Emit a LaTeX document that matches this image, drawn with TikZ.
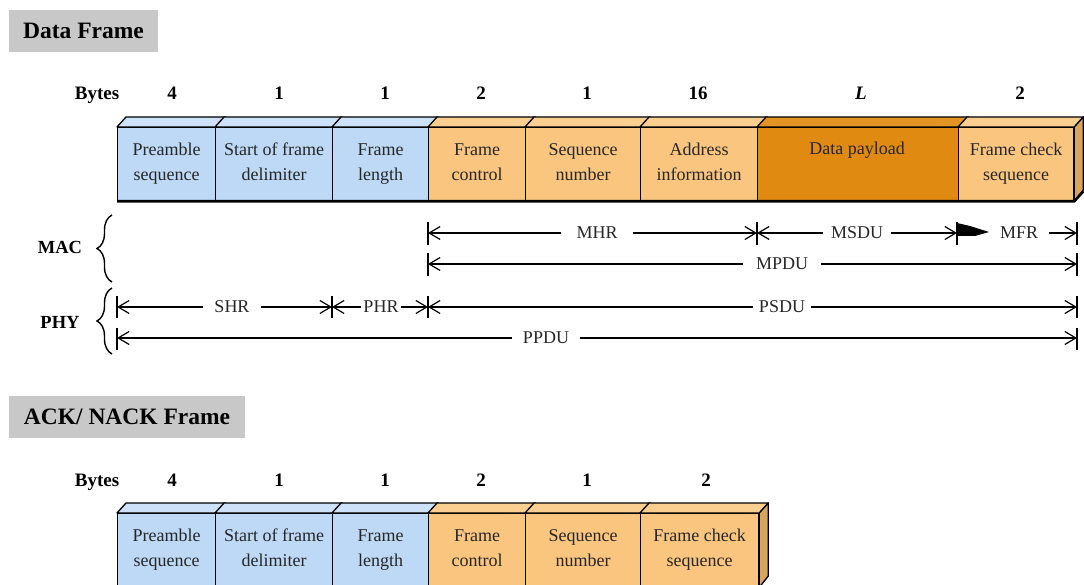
\documentclass[tikz,border=0pt]{standalone}
\usepackage{fontspec}
\setmainfont{Liberation Serif}
\usetikzlibrary{arrows.meta,decorations.pathreplacing}

\definecolor{blueF}{HTML}{BDD9F5}
\definecolor{blueT}{HTML}{CDE2F8}
\definecolor{orF}{HTML}{FAC67F}
\definecolor{orT}{HTML}{FBCF90}
\definecolor{orS}{HTML}{D6A55E}
\definecolor{darkF}{HTML}{E08A12}
\definecolor{darkT}{HTML}{E39524}
\definecolor{hdrgray}{HTML}{C8C8C8}
\definecolor{ink}{HTML}{262626}

% one field of a frame: name, left x, right x, top y, colour prefix, text
\newcommand{\framefield}[6]{%
  \node[field, fill=#5F, minimum width={(#3-#2)*1pt}, anchor=north west] (#1) at (#2,#4) {#6};
  \filldraw[face, fill=#5T] (#1.north west) -- ++(9,-10)
      -- ([shift={(9,-10)}]#1.north east) -- (#1.north east) -- cycle;
}

\begin{document}
\begin{tikzpicture}[x=1pt, y=-1pt,
  field/.style={draw, line width=1.3pt, inner sep=0pt, minimum height=73pt,
    align=center, text=ink, font=\fontsize{18}{25}\selectfont,
    execute at begin node=\rule{0pt}{21pt}, execute at end node=\rule[-4pt]{0pt}{4pt}},
  face/.style={draw, line width=1.3pt, line join=round},
  header/.style={fill=hdrgray, inner sep=0pt, font=\fontsize{23.5}{26}\selectfont\bfseries},
  bytes/.style={anchor=base, font=\fontsize{19}{22}\selectfont\bfseries},
  layer/.style={font=\fontsize{18.5}{22}\selectfont\bfseries},
  dimlabel/.style={inner xsep=11pt, inner ysep=0pt, font=\fontsize{18}{20}\selectfont, text=ink},
  dimarrow/.style={line width=1.2pt, -{Straight Barb[length=11pt,width=13pt]}},
  tick/.style={line width=1.3pt},
  bracestyle/.style={line width=1.4pt, decorate, decoration={brace, amplitude=15pt, aspect=0.5}}
]
\useasboundingbox (0,0) rectangle (1084,585);
\clip (0,0) rectangle (1084,585);

% ---------------- Data frame ----------------
\node[header, minimum width=149pt, minimum height=42pt] (dfhead) at (83.5,31) {Data Frame};

\node[bytes] (dbytes) at (97,100) {Bytes};
\node[bytes] (dn1) at (172,100) {4};
\node[bytes] (dn2) at (279,100) {1};
\node[bytes] (dn3) at (385,100) {1};
\node[bytes] (dn4) at (481,100) {2};
\node[bytes] (dn5) at (587,100) {1};
\node[bytes] (dn6) at (698,100) {16};
\node[bytes] (dn7) at (861,100) {\itshape L};
\node[bytes] (dn8) at (1020,100) {2};

\framefield{dpre}{117}{215}{127}{blue}{Preamble\\sequence}
\framefield{dsfd}{215}{332}{127}{blue}{Start of frame\\delimiter}
\framefield{dlen}{332}{428}{127}{blue}{Frame\\length}
\framefield{dfc}{428}{525}{127}{or}{Frame\\control}
\framefield{dseq}{525}{640}{127}{or}{Sequence\\number}
\framefield{daddr}{640}{757}{127}{or}{Address\\information}
\framefield{dpay}{757}{958}{127}{dark}{}
\framefield{dfcs}{958}{1073}{127}{or}{Frame check\\sequence}
\node[text=ink, font=\fontsize{18}{25}\selectfont] (dpaytext) at (857,150) {Data payload};
\filldraw[face, fill=orS] (dfcs.north east) -- ++(9,-10) -- ++(0,73) -- (dfcs.south east) -- cycle;
\draw[line width=2.6pt] (dpre.south west) -- (dfcs.south east) -- ++(9,-10);

% ---------------- Layer braces ----------------
\node[layer] (mac) at (60,247) {MAC};
\node[layer] (phy) at (60,322) {PHY};
\draw[bracestyle] (112,282) -- (112,215);
\draw[bracestyle] (112,354) -- (112,288);

% ---------------- MAC row: MHR / MSDU / MFR ----------------
\coordinate (mhrL) at (428,233);
\coordinate (mhrR) at (757,233);
\coordinate (mfrL) at (957,233);
\coordinate (mfrR) at (1077,233);
\node[dimlabel, inner xsep=15pt] (mhr) at (597,233) {MHR};
\node[dimlabel, inner xsep=8pt] (msdu) at (857,233) {MSDU};
\node[dimlabel, inner xsep=11pt] (mfr) at (1019,233) {MFR};
\draw[dimarrow] (mhr.west) -- (mhrL);
\draw[dimarrow] (mhr.east) -- (mhrR);
\draw[dimarrow] (msdu.west) -- (mhrR);
\draw[dimarrow] (msdu.east) -- (mfrL);
\draw[dimarrow] (mfr.east) -- (mfrR);
\fill (mfrL) ++(0,-10) -- ++(13,3) -- ++(19,6) -- ++(-14,4) -- ++(-18,0) -- cycle;
\foreach \c in {mhrL,mhrR,mfrL,mfrR}
  \draw[tick] ([yshift=11pt]\c) -- ([yshift=-12pt]\c);

% ---------------- MPDU ----------------
\coordinate (mpduL) at (428,264);
\coordinate (mpduR) at (1077,264);
\node[dimlabel, inner xsep=13pt] (mpdu) at (782,264) {MPDU};
\draw[dimarrow] (mpdu.west) -- (mpduL);
\draw[dimarrow] (mpdu.east) -- (mpduR);
\foreach \c in {mpduL,mpduR}
  \draw[tick] ([yshift=11pt]\c) -- ([yshift=-12pt]\c);

% ---------------- PHY row: SHR / PHR / PSDU ----------------
\coordinate (shrL) at (117,307);
\coordinate (shrR) at (332,307);
\coordinate (psduL) at (428,307);
\coordinate (psduR) at (1077,307);
\node[dimlabel] (shr) at (232,307) {SHR};
\node[dimlabel, inner xsep=2pt] (phr) at (381,307) {PHR};
\node[dimlabel, inner xsep=6pt] (psdu) at (782,307) {PSDU};
\draw[dimarrow] (shr.west) -- (shrL);
\draw[dimarrow] (shr.east) -- (shrR);
\draw[dimarrow] (phr.west) -- (shrR);
\draw[dimarrow] (phr.east) -- (psduL);
\draw[dimarrow] (psdu.west) -- (psduL);
\draw[dimarrow] (psdu.east) -- (psduR);
\foreach \c in {shrL,shrR,psduL,psduR}
  \draw[tick] ([yshift=11pt]\c) -- ([yshift=-11pt]\c);

% ---------------- PPDU ----------------
\coordinate (ppduL) at (117,338);
\coordinate (ppduR) at (1077,338);
\node[dimlabel] (ppdu) at (546,338) {PPDU};
\draw[dimarrow] (ppdu.west) -- (ppduL);
\draw[dimarrow] (ppdu.east) -- (ppduR);
\foreach \c in {ppduL,ppduR}
  \draw[tick] ([yshift=10pt]\c) -- ([yshift=-12pt]\c);

% ---------------- ACK / NACK frame ----------------
\node[header, minimum width=236pt, minimum height=42pt] (ackhead) at (127,417) {ACK/ NACK Frame};

\node[bytes] (abytes) at (97,486) {Bytes};
\node[bytes] (an1) at (172,486) {4};
\node[bytes] (an2) at (279,486) {1};
\node[bytes] (an3) at (385,486) {1};
\node[bytes] (an4) at (481,486) {2};
\node[bytes] (an5) at (587,486) {1};
\node[bytes] (an6) at (706,486) {2};

\framefield{apre}{117}{215}{513}{blue}{Preamble\\sequence}
\framefield{asfd}{215}{332}{513}{blue}{Start of frame\\delimiter}
\framefield{alen}{332}{428}{513}{blue}{Frame\\length}
\framefield{afc}{428}{525}{513}{or}{Frame\\control}
\framefield{aseq}{525}{640}{513}{or}{Sequence\\number}
\framefield{afcs}{640}{758}{513}{or}{Frame check\\sequence}
\filldraw[face, fill=orS] (afcs.north east) -- ++(9,-10) -- ++(0,73) -- (afcs.south east) -- cycle;
\end{tikzpicture}
\end{document}
